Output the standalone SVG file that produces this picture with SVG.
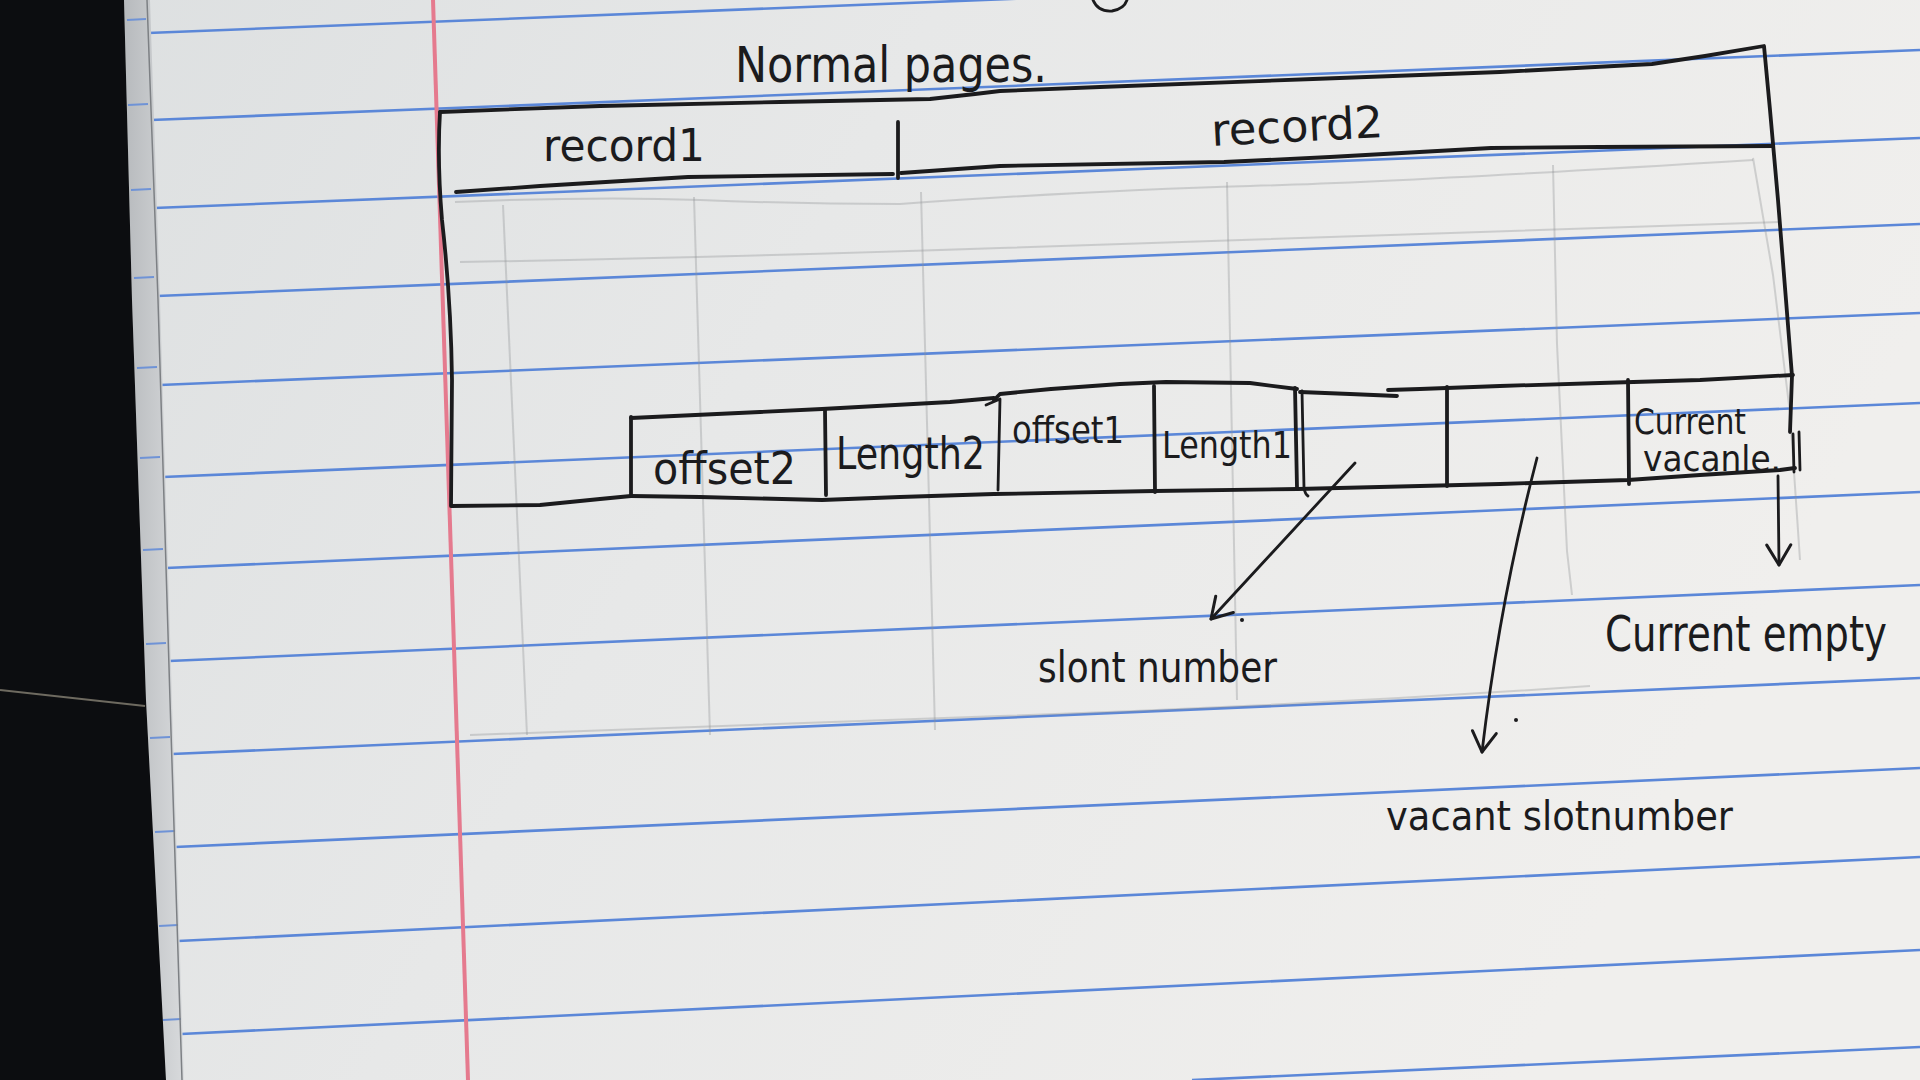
<svg xmlns="http://www.w3.org/2000/svg" width="1920" height="1080" viewBox="0 0 1920 1080">
  <defs>
    <linearGradient id="paper" x1="0" y1="0" x2="1" y2="0.3">
      <stop offset="0" stop-color="#dcdfe0"/>
      <stop offset="0.45" stop-color="#e7e8e8"/>
      <stop offset="1" stop-color="#f0efed"/>
    </linearGradient>
    <linearGradient id="strip" x1="0" y1="0" x2="1" y2="0">
      <stop offset="0" stop-color="#b7babd"/>
      <stop offset="1" stop-color="#d8dadc"/>
    </linearGradient>
    <marker id="vhead" markerUnits="userSpaceOnUse" viewBox="-24 -14 28 28" refX="0" refY="0" markerWidth="28" markerHeight="28" orient="auto">
      <path d="M-20,-12 L0,0 L-20,12" fill="none" stroke="#1b1b1d" stroke-width="3" stroke-linecap="round" stroke-linejoin="round"/>
    </marker>
    <style>
      .blue { stroke:#5b87d8; stroke-width:2.6; fill:none; }
      .stub { stroke:#6f93d6; stroke-width:2; fill:none; }
      .ink { stroke:#1b1b1d; stroke-width:3.8; fill:none; stroke-linecap:round; stroke-linejoin:round; }
      .thin { stroke:#1b1b1d; stroke-width:2.8; fill:none; stroke-linecap:round; stroke-linejoin:round; }
      .pencil { stroke:#8f9194; stroke-width:2; fill:none; opacity:0.35; }
      .hw { font-family:"DejaVu Sans","Liberation Sans",sans-serif; fill:#1b1b1d; }
    </style>
  </defs>

  <!-- paper and desk -->
  <rect x="0" y="0" width="1920" height="1080" fill="url(#paper)"/>
  <g id="ruled-lines">
    <path class="blue" d="M148,33 L1920,-37"/>
    <path class="blue" d="M151,120 L1920,50"/>
    <path class="blue" d="M154,208 L1920,138"/>
    <path class="blue" d="M157,296 L1920,224"/>
    <path class="blue" d="M160,385 L1920,313"/>
    <path class="blue" d="M163,477 L1920,403"/>
    <path class="blue" d="M166,568 L1920,492"/>
    <path class="blue" d="M169,661 L1920,585"/>
    <path class="blue" d="M172,754 L1920,678"/>
    <path class="blue" d="M175,847 L1920,768"/>
    <path class="blue" d="M178,941 L1920,857"/>
    <path class="blue" d="M181,1034 L1920,950"/>
    <path class="blue" d="M1192,1080 L1920,1047"/>
  </g>
  <path d="M433,0 L468,1080" stroke="#e57a8e" stroke-width="4" fill="none"/>

  <!-- faint bleed-through grid from the other side -->
  <g id="bleed-through">
    <path class="pencil" d="M503,205 L527,735"/>
    <path class="pencil" d="M694,197 L710,735"/>
    <path class="pencil" d="M921,192 L935,730"/>
    <path class="pencil" d="M1227,182 L1237,700"/>
    <path class="pencil" d="M1553,165 L1557,344 L1567,551 L1572,595"/>
    <path class="pencil" d="M1753,158 L1773,275 L1790,413 L1800,560"/>
    <path class="pencil" d="M455,202 Q600,196 700,200 T900,204 Q1100,190 1250,186 T1753,160"/>
    <path class="pencil" d="M460,262 Q700,258 1000,248 T1780,222"/>
    <path class="pencil" d="M470,735 Q700,726 1000,716 T1590,686"/>
  </g>

  <!-- desk on the left -->
  <polygon points="124,0 150,0 160,300 172,700 184,1080 166,1080 146,700 132,300" fill="url(#strip)"/>
  <g id="edge-stubs">
    <path class="stub" d="M127,20 L146,19 M128,105 L148,104 M131,190 L151,189 M134,278 L154,277 M137,368 L157,367 M140,458 L160,457 M143,550 L163,549 M146,644 L166,643 M150,738 L170,737 M155,832 L175,831 M159,926 L178,925 M163,1020 L181,1019"/>
  </g>
  <path d="M147,0 L158,300 L170,700 L182,1080" stroke="#7d8084" stroke-width="1.5" fill="none"/>
  <polygon points="0,0 124,0 132,300 146,700 166,1080 0,1080" fill="#0c0d10"/>
  <path d="M0,690 L145,706" stroke="#6e6a60" stroke-width="2" fill="none"/>

  <!-- stray ink at the top -->
  <path class="thin" d="M1093,0 Q1098,12 1112,11 Q1124,9 1127,0"/>

  <g id="title">
    <text class="hw" x="735" y="82" font-size="50" textLength="312" lengthAdjust="spacingAndGlyphs">Normal pages.</text>
  </g>

  <g id="page-frame">
    <path class="ink" d="M440,112 L600,106 L780,102 L930,99 L975,94 L1000,91 L1100,87 L1313,79 L1500,72 L1652,64 L1705,56 L1764,46 L1770,110 L1778,200 L1786,300 L1792,376 L1790,432"/>
    <path class="ink" d="M440,112 Q437,160 442,220 Q451,300 452,380 L451,506 L540,505 L600,499 L631,496"/>
  </g>

  <g id="record-row">
    <path class="ink" d="M456,192 L540,186 L688,177 L893,174"/>
    <path class="ink" d="M898,122 L898,178"/>
    <path class="ink" d="M901,173 L1000,166 L1224,162 L1330,157 L1491,148 L1600,147 L1773,146"/>
  </g>
  <g id="record1">
    <text class="hw" x="543" y="161" font-size="44" textLength="162" lengthAdjust="spacingAndGlyphs">record1</text>
  </g>
  <g id="record2">
    <text class="hw" x="1212" y="146" font-size="44" textLength="172" lengthAdjust="spacingAndGlyphs" transform="rotate(-3 1212 146)">record2</text>
  </g>

  <g id="slot-array">
    <path class="ink" d="M631,418 L760,412 L822,409 L950,402 L994,398"/>
    <path class="ink" d="M994,400 L1000,394 L1051,389 L1120,384 L1166,382 L1250,383 L1297,389"/>
    <path class="ink" d="M1300,392 L1350,394 L1397,396"/>
    <path class="ink" d="M1388,390 L1420,389 L1500,386 L1600,383 L1700,380 L1793,375"/>
    <path class="ink" d="M631,496 L700,497 L822,500 L900,497 L994,494 L1155,491 L1298,489 L1420,486 L1500,484 L1628,480 L1700,475 L1780,470 L1795,468"/>
    <path class="ink" d="M631,417 L631,496"/>
    <path class="ink" d="M825,410 L826,495"/>
    <path class="thin" d="M986,405 L1000,399 L998,490"/>
    <path class="ink" d="M1154,386 L1155,492"/>
    <path class="ink" d="M1295,388 L1297,488"/>
    <path class="thin" d="M1302,391 L1304,488 Q1305,494 1308,496"/>
    <path class="ink" d="M1447,387 L1447,486"/>
    <path class="ink" d="M1628,380 L1629,484"/>
    <path class="thin" d="M1793,434 L1794,472 M1799,432 L1800,470"/>
  </g>
  <g id="slot-offset2">
    <text class="hw" x="653" y="484" font-size="44" textLength="143" lengthAdjust="spacingAndGlyphs">offset2</text>
  </g>
  <g id="slot-length2">
    <text class="hw" x="836" y="469" font-size="44" textLength="149" lengthAdjust="spacingAndGlyphs">Length2</text>
  </g>
  <g id="slot-offset1">
    <text class="hw" x="1012" y="443" font-size="38" textLength="112" lengthAdjust="spacingAndGlyphs">offset1</text>
  </g>
  <g id="slot-length1">
    <text class="hw" x="1162" y="458" font-size="38" textLength="130" lengthAdjust="spacingAndGlyphs">Length1</text>
  </g>
  <g id="slot-current-vacant">
    <text class="hw" x="1634" y="434" font-size="36" textLength="112" lengthAdjust="spacingAndGlyphs">Current</text>
    <text class="hw" x="1643" y="471" font-size="36" textLength="138" lengthAdjust="spacingAndGlyphs">vacanle.</text>
  </g>

  <g id="connectors">
    <path class="thin" d="M1355,463 L1211,619" marker-end="url(#vhead)"/>
    <path class="thin" d="M1537,458 Q1500,600 1482,752" marker-end="url(#vhead)"/>
    <path class="thin" d="M1778,476 L1779,565" marker-end="url(#vhead)"/>
    <circle cx="1242" cy="620" r="2" fill="#1b1b1d"/>
    <circle cx="1516" cy="720" r="2" fill="#1b1b1d"/>
  </g>

  <g id="label-slot-number">
    <text class="hw" x="1038" y="682" font-size="42" textLength="239" lengthAdjust="spacingAndGlyphs">slont number</text>
  </g>
  <g id="label-vacant-slot-number">
    <text class="hw" x="1386" y="830" font-size="40" textLength="347" lengthAdjust="spacingAndGlyphs">vacant slotnumber</text>
  </g>
  <g id="label-current-empty">
    <text class="hw" x="0" y="0" font-size="42" textLength="282" lengthAdjust="spacingAndGlyphs" transform="translate(1605,651) scale(1,1.18)">Current empty</text>
  </g>
</svg>
